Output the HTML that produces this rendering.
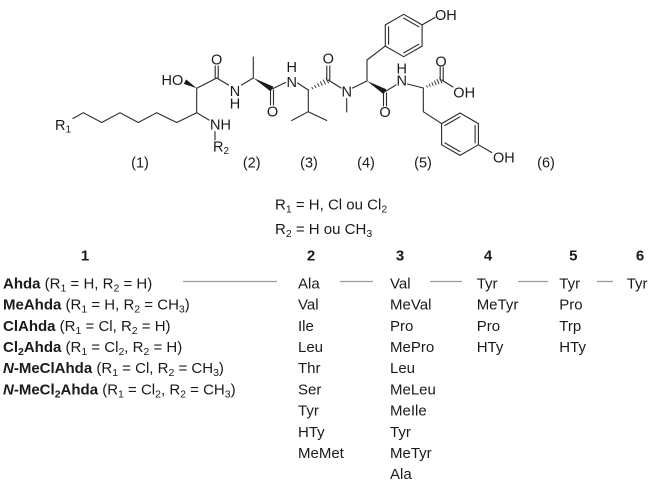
<!DOCTYPE html>
<html><head><meta charset="utf-8"><style>
html,body{margin:0;padding:0;background:#fff;}
svg{display:block;}
text{font-family:"Liberation Sans",Arial,sans-serif;fill:#1a1a1a;}
</style></head><body>
<svg width="653" height="490" viewBox="0 0 653 490" xmlns="http://www.w3.org/2000/svg">
<g stroke="#2a2a2a" stroke-width="1.1" fill="none" stroke-linecap="round" stroke-linejoin="round">
  <!-- alkyl chain -->
  <polyline points="73,118.5 83.3,112.7 101.7,122.5 120,112.7 138.3,122.5 156.7,112.7 176.7,122.5 196.7,112.7 196.7,88.3 216.7,78 228.5,85"/>
  <line x1="215.2" y1="66" x2="215.2" y2="78"/>
  <line x1="218.2" y1="66" x2="218.2" y2="78"/>
  <!-- NH to R2 -->
  <line x1="196.7" y1="112.7" x2="209" y2="120"/>
  <line x1="215" y1="131.5" x2="215" y2="140"/>
  <!-- Ala -->
  <line x1="241.5" y1="85" x2="253.3" y2="78"/>
  <line x1="253.3" y1="78" x2="253.3" y2="57"/>
  <line x1="270.5" y1="90" x2="270.5" y2="105"/>
  <line x1="273.5" y1="90" x2="273.5" y2="105"/>
  <line x1="272" y1="89" x2="285.5" y2="82.5"/>
  <!-- Val -->
  <line x1="297.5" y1="83" x2="308.3" y2="90"/>
  <polyline points="308.3,90 308.3,111.7 291.7,120.5"/>
  <line x1="308.3" y1="111.7" x2="326.7" y2="120.5"/>
  <line x1="326.8" y1="66" x2="326.8" y2="80"/>
  <line x1="329.8" y1="66" x2="329.8" y2="80"/>
  <line x1="328.3" y1="80" x2="341" y2="88"/>
  <line x1="346.7" y1="98.5" x2="346.7" y2="112"/>
  <!-- Tyr 4 -->
  <line x1="352.5" y1="88" x2="367" y2="81"/>
  <polyline points="367,81 367,60 385.3,46.1"/>
  <polygon points="403.7,14.3 422.1,24.9 422.1,46.1 403.7,56.7 385.3,46.1 385.3,24.9"/>
  <line x1="388.6" y1="26.8" x2="388.6" y2="44.2"/>
  <line x1="403.7" y1="18.1" x2="418.8" y2="26.8"/>
  <line x1="418.8" y1="44.2" x2="403.7" y2="52.9"/>
  <line x1="422.1" y1="24.9" x2="435" y2="17.5"/>
  <line x1="383.5" y1="93" x2="383.5" y2="106"/>
  <line x1="386.5" y1="93" x2="386.5" y2="106"/>
  <line x1="385" y1="91.7" x2="396" y2="85"/>
  <!-- Tyr 5 -->
  <line x1="407.5" y1="84" x2="423.3" y2="88"/>
  <polyline points="423.3,88 423.3,111.7 441.6,123.6"/>
  <polygon points="460,113 478.4,123.6 478.4,144.8 460,155.4 441.6,144.8 441.6,123.6"/>
  <line x1="475.1" y1="125.5" x2="475.1" y2="142.9"/>
  <line x1="460" y1="151.6" x2="444.9" y2="142.9"/>
  <line x1="444.9" y1="125.5" x2="460" y2="116.8"/>
  <line x1="478.4" y1="144.8" x2="491.7" y2="152.5"/>
  <line x1="440.2" y1="67" x2="440.2" y2="80"/>
  <line x1="443.2" y1="67" x2="443.2" y2="80"/>
  <line x1="441.7" y1="80" x2="453" y2="87"/>
  <!-- hashed wedges -->
  <g stroke-width="0.9">
    <line x1="311.94" y1="87.28" x2="312.66" y2="88.72"/>
    <line x1="314.76" y1="85.43" x2="315.84" y2="87.57"/>
    <line x1="317.58" y1="83.57" x2="319.02" y2="86.43"/>
    <line x1="320.41" y1="81.71" x2="322.19" y2="85.29"/>
    <line x1="323.23" y1="79.85" x2="325.37" y2="84.15"/>
    <line x1="326.05" y1="78" x2="328.55" y2="83"/>
    <line x1="426.68" y1="85.67" x2="427.32" y2="87.13"/>
    <line x1="429.26" y1="84.1" x2="430.22" y2="86.3"/>
    <line x1="431.86" y1="82.53" x2="433.14" y2="85.47"/>
    <line x1="434.46" y1="80.97" x2="436.06" y2="84.63"/>
    <line x1="437.06" y1="79.4" x2="438.98" y2="83.8"/>
    <line x1="439.66" y1="77.83" x2="441.9" y2="82.97"/>
  </g>
</g>
<!-- bold wedges -->
<g fill="#1a1a1a" stroke="none">
  <polygon points="196.7,88.3 186.23,79.52 183.77,83.88"/>
  <polygon points="253.3,78 270.58,91.41 273.42,86.59"/>
  <polygon points="367,81 383.57,94.11 386.43,89.29"/>
</g>
<!-- structure labels -->
<g font-size="14.5">
  <text x="55" y="130">R<tspan font-size="10" dy="2.5">1</tspan></text>
  <text x="161.5" y="85">HO</text>
  <text x="216.7" y="64.5" text-anchor="middle">O</text>
  <text x="235" y="96" text-anchor="middle">N</text>
  <text x="235" y="108.5" text-anchor="middle">H</text>
  <text x="210" y="129.5">NH</text>
  <text x="213" y="151.5">R<tspan font-size="10" dy="2.5">2</tspan></text>
  <text x="272.5" y="116.5" text-anchor="middle">O</text>
  <text x="291.7" y="72" text-anchor="middle">H</text>
  <text x="291.7" y="87" text-anchor="middle">N</text>
  <text x="328.3" y="63.5" text-anchor="middle">O</text>
  <text x="346.7" y="96.5" text-anchor="middle">N</text>
  <text x="435" y="20">OH</text>
  <text x="385" y="117" text-anchor="middle">O</text>
  <text x="401.7" y="73.5" text-anchor="middle">H</text>
  <text x="401.7" y="85.5" text-anchor="middle">N</text>
  <text x="441" y="66.5" text-anchor="middle">O</text>
  <text x="453.3" y="97.5">OH</text>
  <text x="493" y="162.5">OH</text>
  <text x="140" y="167.5" text-anchor="middle">(1)</text>
  <text x="251.7" y="167.5" text-anchor="middle">(2)</text>
  <text x="309" y="167.5" text-anchor="middle">(3)</text>
  <text x="366" y="167.5" text-anchor="middle">(4)</text>
  <text x="423" y="167.5" text-anchor="middle">(5)</text>
  <text x="546" y="167.5" text-anchor="middle">(6)</text>
</g>
<!-- R definitions -->
<g font-size="15">
  <text x="275" y="209.5">R<tspan font-size="10.5" dy="3">1</tspan><tspan dy="-3"> = H, Cl ou Cl</tspan><tspan font-size="10.5" dy="3">2</tspan></text>
  <text x="275" y="234">R<tspan font-size="10.5" dy="3">2</tspan><tspan dy="-3"> = H ou CH</tspan><tspan font-size="10.5" dy="3">3</tspan></text>
</g>
<!-- headers -->
<g font-size="15" font-weight="bold" text-anchor="middle">
  <text x="85" y="260.4">1</text>
  <text x="311" y="260.4">2</text>
  <text x="400" y="260.4">3</text>
  <text x="488" y="260.4">4</text>
  <text x="573.3" y="260.4">5</text>
  <text x="640" y="260.4">6</text>
</g>
<!-- connectors -->
<g stroke="#9a9a9a" stroke-width="1.3">
  <line x1="183" y1="281.5" x2="277" y2="281.5"/>
  <line x1="340" y1="281.5" x2="373" y2="281.5"/>
  <line x1="430" y1="281.5" x2="462" y2="281.5"/>
  <line x1="518" y1="281.5" x2="548" y2="281.5"/>
  <line x1="597" y1="281.5" x2="613" y2="281.5"/>
</g>
<!-- column 1 -->
<g font-size="15">
  <text x="3" y="288.4"><tspan font-weight="bold">Ahda</tspan> (R<tspan font-size="10.5" dy="3">1</tspan><tspan dy="-3"> = H, R</tspan><tspan font-size="10.5" dy="3">2</tspan><tspan dy="-3"> = H)</tspan></text>
  <text x="3" y="309.6"><tspan font-weight="bold">MeAhda</tspan> (R<tspan font-size="10.5" dy="3">1</tspan><tspan dy="-3"> = H, R</tspan><tspan font-size="10.5" dy="3">2</tspan><tspan dy="-3"> = CH</tspan><tspan font-size="10.5" dy="3">3</tspan><tspan dy="-3">)</tspan></text>
  <text x="3" y="330.8"><tspan font-weight="bold">ClAhda</tspan> (R<tspan font-size="10.5" dy="3">1</tspan><tspan dy="-3"> = Cl, R</tspan><tspan font-size="10.5" dy="3">2</tspan><tspan dy="-3"> = H)</tspan></text>
  <text x="3" y="352"><tspan font-weight="bold">Cl</tspan><tspan font-weight="bold" font-size="10.5" dy="3">2</tspan><tspan font-weight="bold" dy="-3">Ahda</tspan> (R<tspan font-size="10.5" dy="3">1</tspan><tspan dy="-3"> = Cl</tspan><tspan font-size="10.5" dy="3">2</tspan><tspan dy="-3">, R</tspan><tspan font-size="10.5" dy="3">2</tspan><tspan dy="-3"> = H)</tspan></text>
  <text x="3" y="373.2"><tspan font-weight="bold" font-style="italic">N</tspan><tspan font-weight="bold">-MeClAhda</tspan> (R<tspan font-size="10.5" dy="3">1</tspan><tspan dy="-3"> = Cl, R</tspan><tspan font-size="10.5" dy="3">2</tspan><tspan dy="-3"> = CH</tspan><tspan font-size="10.5" dy="3">3</tspan><tspan dy="-3">)</tspan></text>
  <text x="3" y="394.4"><tspan font-weight="bold" font-style="italic">N</tspan><tspan font-weight="bold">-MeCl</tspan><tspan font-weight="bold" font-size="10.5" dy="3">2</tspan><tspan font-weight="bold" dy="-3">Ahda</tspan> (R<tspan font-size="10.5" dy="3">1</tspan><tspan dy="-3"> = Cl</tspan><tspan font-size="10.5" dy="3">2</tspan><tspan dy="-3">, R</tspan><tspan font-size="10.5" dy="3">2</tspan><tspan dy="-3"> = CH</tspan><tspan font-size="10.5" dy="3">3</tspan><tspan dy="-3">)</tspan></text>
</g>
<!-- column 2 -->
<g font-size="15">
  <text x="298" y="288.4">Ala</text>
  <text x="298" y="309.6">Val</text>
  <text x="298" y="330.8">Ile</text>
  <text x="298" y="352">Leu</text>
  <text x="298" y="373.2">Thr</text>
  <text x="298" y="394.4">Ser</text>
  <text x="298" y="415.6">Tyr</text>
  <text x="298" y="436.8">HTy</text>
  <text x="298" y="458">MeMet</text>
</g>
<!-- column 3 -->
<g font-size="15">
  <text x="390" y="288.4">Val</text>
  <text x="390" y="309.6">MeVal</text>
  <text x="390" y="330.8">Pro</text>
  <text x="390" y="352">MePro</text>
  <text x="390" y="373.2">Leu</text>
  <text x="390" y="394.4">MeLeu</text>
  <text x="390" y="415.6">MeIle</text>
  <text x="390" y="436.8">Tyr</text>
  <text x="390" y="458">MeTyr</text>
  <text x="390" y="479.2">Ala</text>
</g>
<!-- column 4 -->
<g font-size="15">
  <text x="476.7" y="288.4">Tyr</text>
  <text x="476.7" y="309.6">MeTyr</text>
  <text x="476.7" y="330.8">Pro</text>
  <text x="476.7" y="352">HTy</text>
</g>
<!-- column 5 -->
<g font-size="15">
  <text x="559.3" y="288.4">Tyr</text>
  <text x="559.3" y="309.6">Pro</text>
  <text x="559.3" y="330.8">Trp</text>
  <text x="559.3" y="352">HTy</text>
</g>
<!-- column 6 -->
<g font-size="15">
  <text x="626.7" y="288.4">Tyr</text>
</g>
</svg>
</body></html>
